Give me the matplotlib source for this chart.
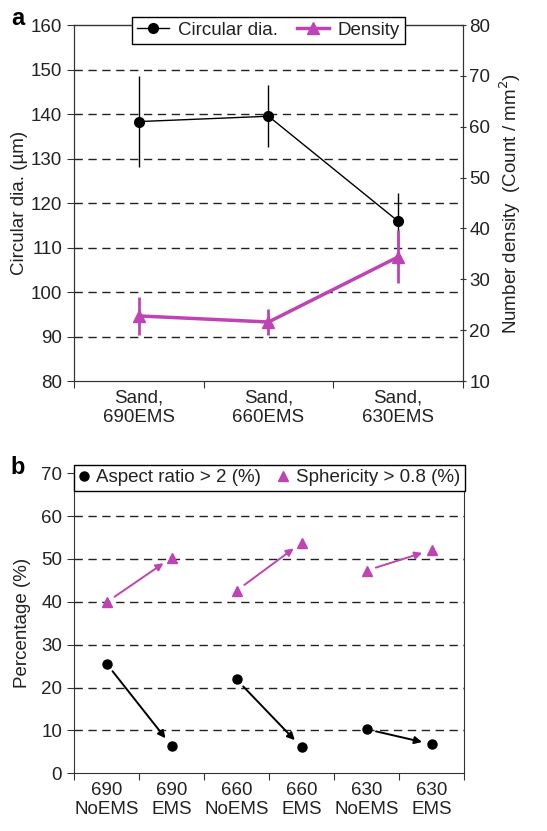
import matplotlib.pyplot as plt
from matplotlib.lines import Line2D
import numpy as np

plt.rcParams['font.family'] = ['Liberation Sans', 'DejaVu Sans']

# panel a
sites = ["Sand,\n690EMS", "Sand,\n660EMS", "Sand,\n630EMS"]
circ_dia = [138.3, 139.5, 115.9]
circ_err = [10.3, 7.0, 6.3]
density = [22.8, 21.6, 34.4]
density_err = [3.7, 2.5, 5.2]

# panel b
groups = ["690\nNoEMS", "690\nEMS", "660\nNoEMS", "660\nEMS", "630\nNoEMS", "630\nEMS"]
aspect = [25.6, 6.4, 21.9, 6.1, 10.3, 6.8]
spher = [39.9, 50.3, 42.6, 53.8, 47.3, 52.1]

MAG = '#BE44B4'
SPINE = '#333333'
TXT = '#222222'
fs = 13.5

fig = plt.figure(figsize=(5.47, 8.31), dpi=100)

# ---- panel a ----
ax = fig.add_axes([0.1353, 0.5415, 0.7111, 0.4284])
ax2 = ax.twinx()
x = np.arange(1, 4)

for y in range(90, 151, 10):
    ax.axhline(y, color='#222222', ls=(0, (6, 4)), lw=1, zorder=0)

ax.errorbar(x, circ_dia, yerr=circ_err, color='black', marker='o', ms=7,
            lw=1, elinewidth=1, capsize=0)
ax2.errorbar(x, density, yerr=density_err, color=MAG, marker='^', ms=8,
             lw=2.5, elinewidth=2, capsize=0)

ax.set_xlim(0.5, 3.5)
ax.set_ylim(80, 160)
ax2.set_ylim(10, 80)
ax.set_yticks(range(80, 161, 10))
ax2.set_yticks(range(10, 81, 10))
ax.set_xticks([0.5, 1.5, 2.5, 3.5])
ax.set_xticklabels([])
ax.set_xticks(x, minor=True)
ax.set_xticklabels(sites, minor=True, fontsize=fs, color=TXT)
ax.tick_params(axis='x', which='minor', length=0, pad=6)
ax.tick_params(axis='x', which='major', length=5, direction='out', color=SPINE)
ax.tick_params(axis='y', length=5, direction='out', labelsize=fs, color=SPINE,
               labelcolor=TXT)
ax2.tick_params(axis='y', length=5, direction='inout', labelsize=fs, color=SPINE,
                labelcolor=TXT, pad=2)
ax.set_ylabel('Circular dia. (µm)', fontsize=fs, color=TXT, labelpad=2)
ax2.set_ylabel('Number density  (Count / mm$^2$)', fontsize=fs, color=TXT,
               labelpad=5)
for a in (ax, ax2):
    for s in a.spines.values():
        s.set_color(SPINE)
ax.spines['top'].set_visible(False)
ax2.spines['top'].set_visible(False)
ax.plot([0, 1], [1, 1], transform=ax.transAxes, color=SPINE, lw=1, clip_on=False)

h1 = Line2D([], [], color='black', marker='o', ms=7, lw=1)
h2 = Line2D([], [], color=MAG, marker='^', ms=8, lw=2.5)
leg = ax2.legend([h1, h2], ['Circular dia.', 'Density'], loc='center',
                 bbox_to_anchor=(0.5, 0.985), ncol=2, fontsize=fs,
                 frameon=True, fancybox=False, edgecolor='black',
                 framealpha=1, handlelength=1.7, columnspacing=1.0,
                 borderpad=0.25, handletextpad=0.5)
leg.get_frame().set_linewidth(1)
for t in leg.get_texts():
    t.set_color(TXT)
fig.text(0.02, 0.978, 'a', fontsize=17, fontweight='bold', va='center')

# ---- panel b ----
bx = fig.add_axes([0.1353, 0.0694, 0.7130, 0.3611])
xb = np.arange(1, 7)
for y in range(10, 61, 10):
    bx.axhline(y, color='#222222', ls=(0, (6, 4)), lw=1, zorder=0)

bx.plot(xb, aspect, 'o', color='black', ms=6.5, label='Aspect ratio > 2 (%)')
bx.plot(xb, spher, '^', color=MAG, ms=7.5, label='Sphericity > 0.8 (%)')
for i in range(0, 6, 2):
    bx.annotate('', xy=(xb[i + 1], aspect[i + 1]), xytext=(xb[i], aspect[i]),
                arrowprops=dict(arrowstyle='-|>', color='black', lw=1.4,
                                shrinkA=7, shrinkB=7, mutation_scale=11))
    bx.annotate('', xy=(xb[i + 1], spher[i + 1]), xytext=(xb[i], spher[i]),
                arrowprops=dict(arrowstyle='-|>', color=MAG, lw=1.4,
                                shrinkA=7, shrinkB=7, mutation_scale=11))

bx.set_xlim(0.5, 6.5)
bx.set_ylim(0, 70)
bx.set_yticks(range(0, 71, 10))
bx.set_xticks(np.arange(0.5, 6.6, 1))
bx.set_xticklabels([])
bx.set_xticks(xb, minor=True)
bx.set_xticklabels(groups, minor=True, fontsize=fs, color=TXT)
bx.tick_params(axis='x', which='minor', length=0, pad=6)
bx.tick_params(axis='x', which='major', length=5, direction='out', color=SPINE)
bx.tick_params(axis='y', length=5, direction='out', labelsize=fs, color=SPINE,
               labelcolor=TXT)
bx.set_ylabel('Percentage (%)', fontsize=fs, color=TXT, labelpad=7)
for s in bx.spines.values():
    s.set_color(SPINE)

leg2 = bx.legend(loc='center', bbox_to_anchor=(0.5, 0.985), ncol=2, fontsize=fs,
                 frameon=True, fancybox=False, edgecolor='black', framealpha=1,
                 handlelength=0.6, columnspacing=0.9, borderpad=0.25,
                 handletextpad=0.35, borderaxespad=0)
leg2.get_frame().set_linewidth(1)
for t in leg2.get_texts():
    t.set_color(TXT)
fig.text(0.02, 0.437, 'b', fontsize=17, fontweight='bold', va='center')

fig.savefig('out.png', dpi=100)
